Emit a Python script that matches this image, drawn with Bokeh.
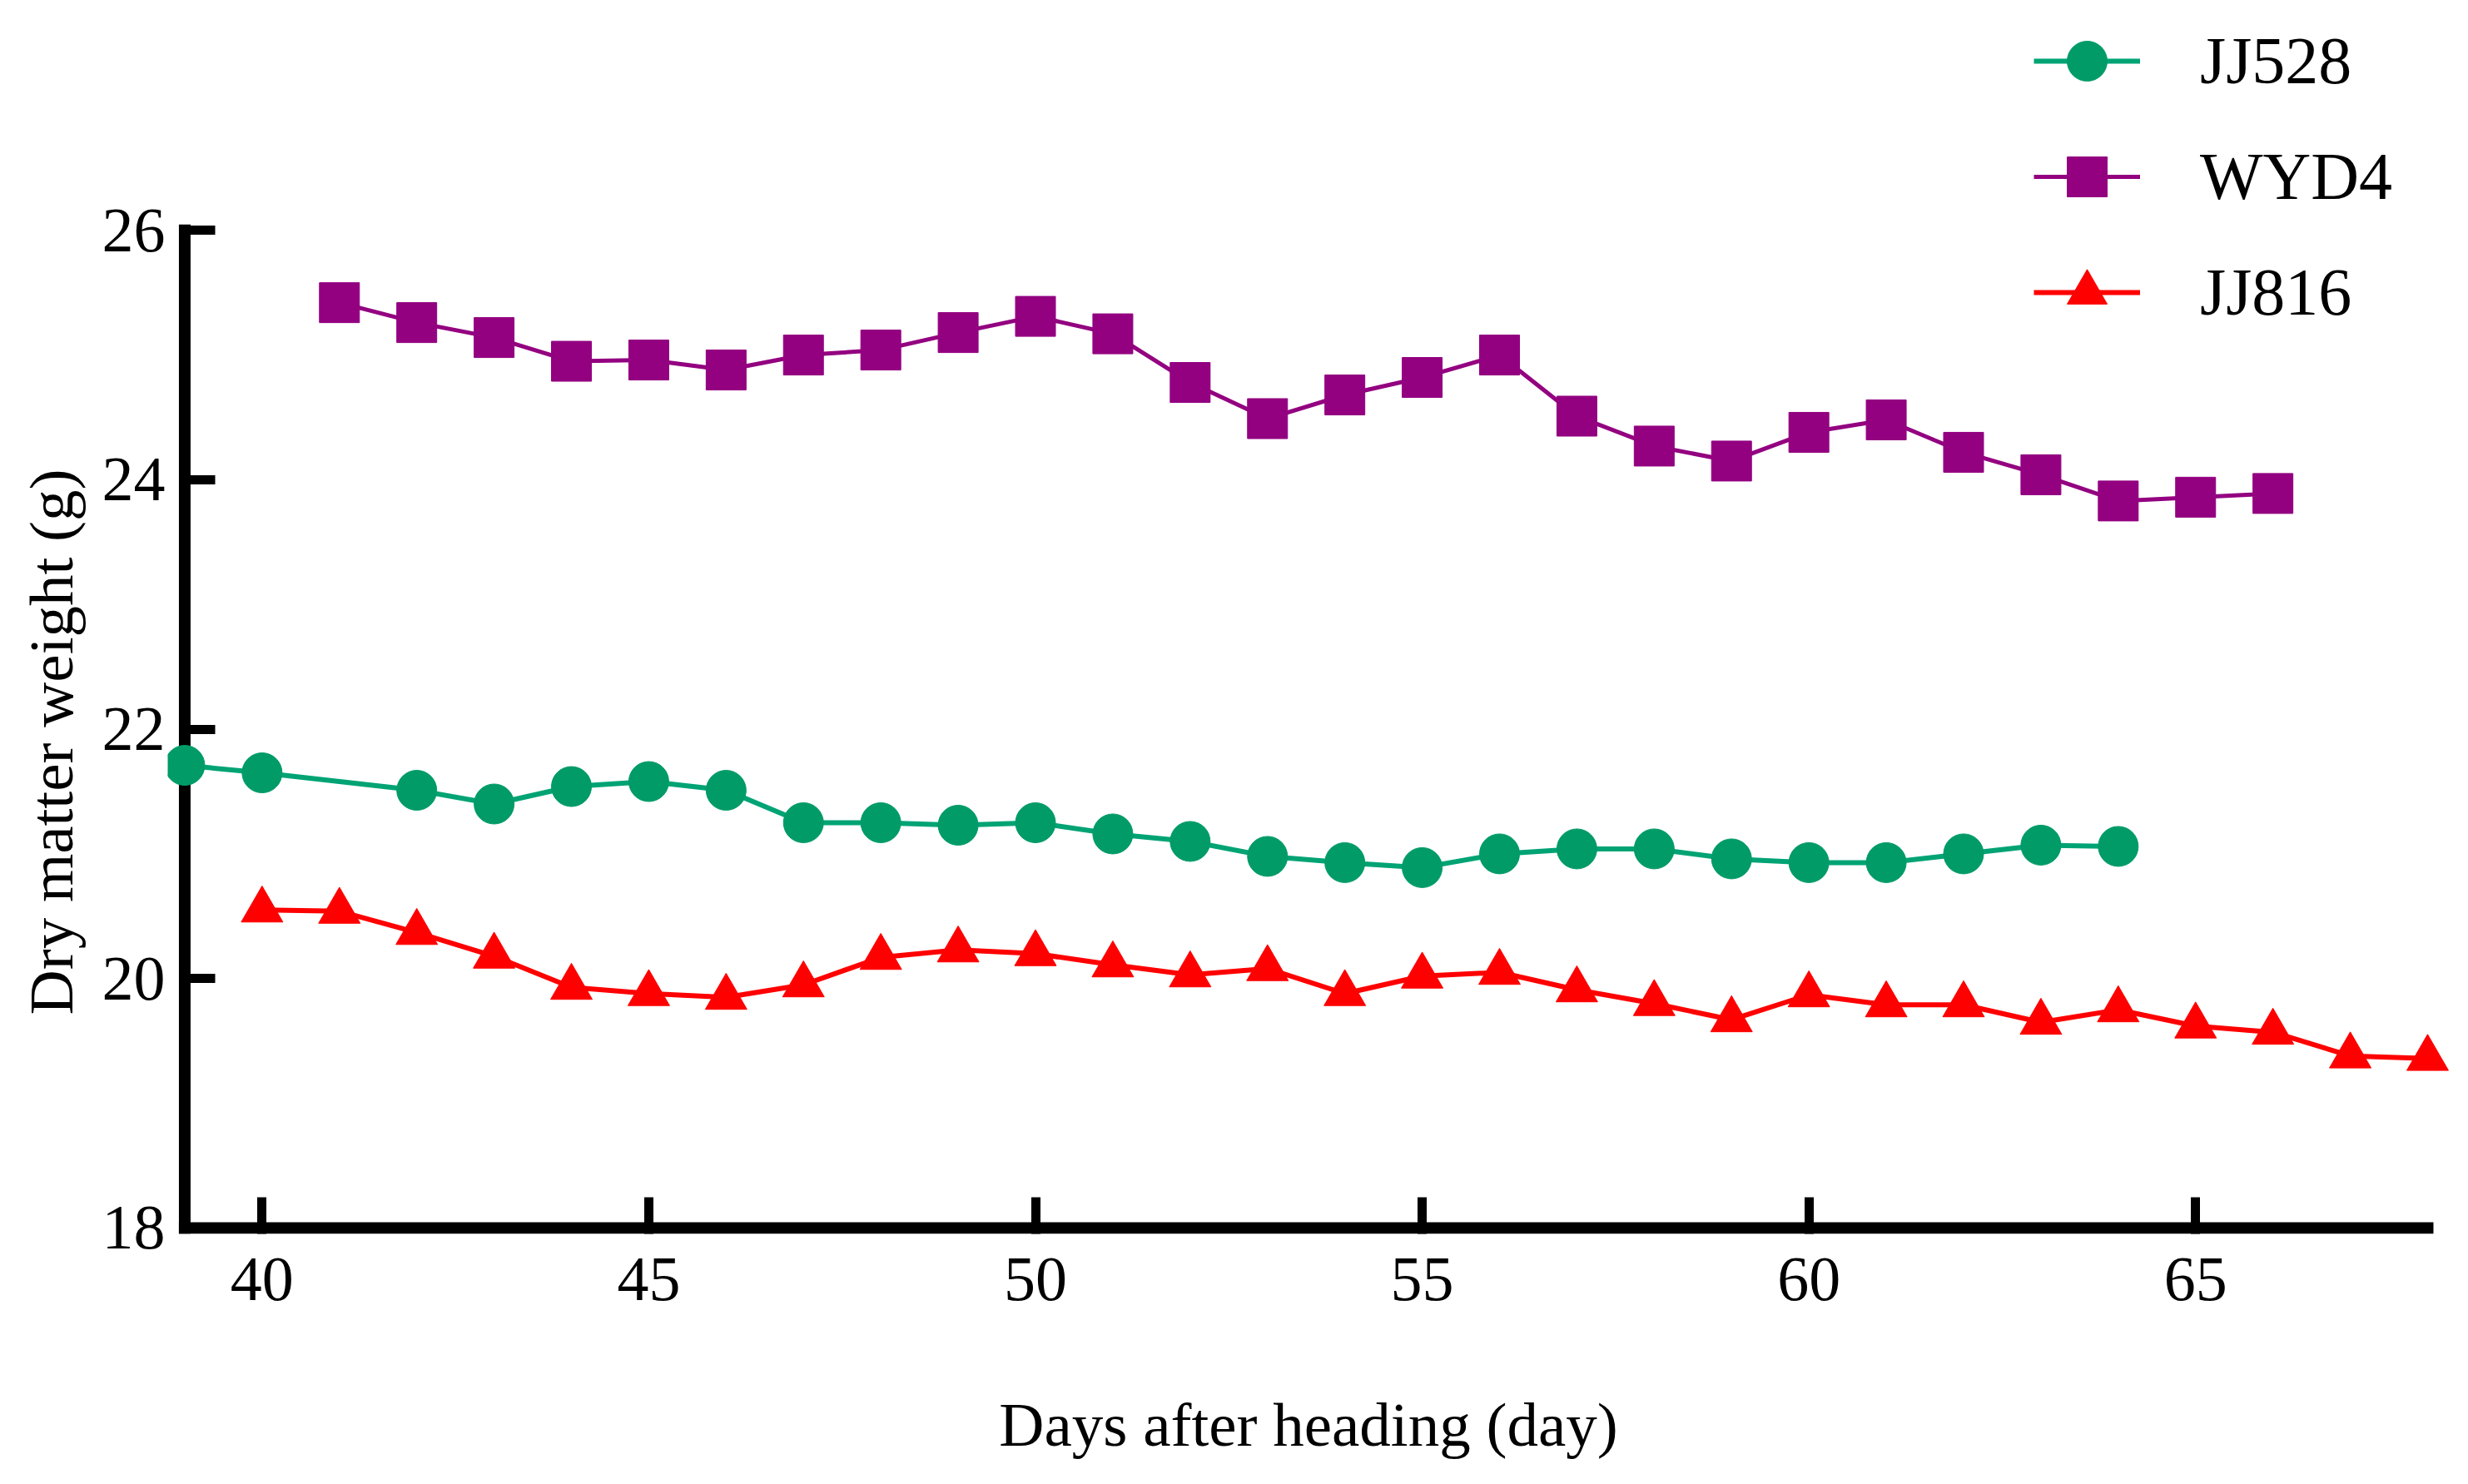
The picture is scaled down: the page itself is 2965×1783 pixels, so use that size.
from bokeh.plotting import figure
from bokeh.models import Range1d, FixedTicker, Legend, LegendItem, LinearAxis, Title
from bokeh.embed import file_html
from bokeh.resources import INLINE

# ---- data ----
days_jj528 = [39, 40, 42, 43, 44, 45, 46, 47, 48, 49, 50, 51, 52, 53, 54, 55,
              56, 57, 58, 59, 60, 61, 62, 63, 64]
jj528 = [21.71, 21.65, 21.51, 21.40, 21.54, 21.58, 21.51, 21.25, 21.25, 21.23,
         21.25, 21.16, 21.10, 20.98, 20.93, 20.89, 21.00, 21.04, 21.04, 20.96,
         20.93, 20.93, 21.00, 21.07, 21.06]

days_wyd4 = [41, 42, 43, 44, 45, 46, 47, 48, 49, 50, 51, 52, 53, 54, 55, 56,
             57, 58, 59, 60, 61, 62, 63, 64, 65, 66]
wyd4 = [25.42, 25.26, 25.14, 24.95, 24.96, 24.88, 25.00, 25.04, 25.18, 25.31,
        25.17, 24.78, 24.49, 24.68, 24.82, 25.00, 24.51, 24.27, 24.15, 24.38,
        24.48, 24.22, 24.04, 23.83, 23.86, 23.89]

days_jj816 = [40, 41, 42, 43, 44, 45, 46, 47, 48, 49, 50, 51, 52, 53, 54, 55,
              56, 57, 58, 59, 60, 61, 62, 63, 64, 65, 66, 67, 68]
jj816 = [20.55, 20.54, 20.37, 20.18, 19.93, 19.88, 19.85, 19.95, 20.17, 20.23,
         20.20, 20.11, 20.03, 20.08, 19.88, 20.02, 20.05, 19.91, 19.80, 19.67,
         19.87, 19.79, 19.79, 19.65, 19.75, 19.62, 19.57, 19.38, 19.36]

x_ticks = [40, 45, 50, 55, 60, 65]
y_ticks = [18, 20, 22, 24, 26]
x_axis_span = [39, 68]
y_axis_span = [18, 26]

x_label = "Days after heading (day)"
y_label = "Dry matter weight (g)"

FONT = "Liberation Serif"

p = figure(width=2949, height=1767, output_backend="svg", toolbar_location=None,
           x_range=Range1d(38.78, 68.28), y_range=Range1d(17.953, 27.75),
           min_border_left=201, min_border_right=7, min_border_top=14,
           min_border_bottom=285)
p.outline_line_color = None
p.grid.visible = False
p.background_fill_color = "white"
p.border_fill_color = "white"

# normal axes: tick labels (x axis also draws its tick marks)
xa = p.xaxis[0]
ya = p.yaxis[0]
xa.ticker = FixedTicker(ticks=x_ticks)
ya.ticker = FixedTicker(ticks=y_ticks)
for ax in (xa, ya):
    ax.axis_line_color = None
    ax.minor_tick_line_color = None
    ax.major_label_text_font = FONT
    ax.major_label_text_font_size = "76px"
    ax.major_label_text_color = "black"
    ax.axis_label_text_font = FONT
    ax.axis_label_text_font_size = "75px"
    ax.axis_label_text_font_style = "normal"
    ax.axis_label_text_color = "black"
xa.major_tick_line_color = "black"
xa.major_tick_line_width = 11
xa.major_tick_in = 44
xa.major_tick_out = 0
ya.major_tick_line_color = None
ya.major_tick_in = 0
ya.major_tick_out = 0
xa.axis_label = x_label
xa.major_label_standoff = 29
xa.axis_label_standoff = 105
ya.major_label_standoff = 3

# y tick marks sitting on the y axis line (x = 39), no labels
ytick_axis = LinearAxis(fixed_location=x_axis_span[0],
                        ticker=FixedTicker(ticks=y_ticks),
                        axis_line_color=None, minor_tick_line_color=None,
                        major_tick_line_color="black", major_tick_line_width=11,
                        major_tick_in=37, major_tick_out=0,
                        major_label_text_font_size="1px",
                        major_label_text_color=None,
                        major_label_standoff=0)
p.add_layout(ytick_axis, "left")

# y axis title (placed beside the y axis, starting near its lower part)
ytitle = Title(text=y_label, align="left", offset=263, standoff=34,
               text_font=FONT, text_font_size="75px", text_font_style="normal",
               text_color="black")
p.add_layout(ytitle, "left")

# axis lines
p.segment(x0=[x_axis_span[0], x_axis_span[0]], y0=[y_axis_span[0], y_axis_span[0]],
          x1=[x_axis_span[1], x_axis_span[0]], y1=[y_axis_span[0], y_axis_span[1]],
          line_color="black", line_width=14, line_cap="square")

GREEN = "#009B67"
PURPLE = "#930080"
RED = "#FF0000"

l1 = p.line(days_jj528, jj528, line_color="#00A374", line_width=6)
s1 = p.scatter(days_jj528, jj528, marker="circle", size=48,
               fill_color=GREEN, line_color=GREEN)
l2 = p.line(days_wyd4, wyd4, line_color=PURPLE, line_width=5)
s2 = p.scatter(days_wyd4, wyd4, marker="square", size=48,
               fill_color=PURPLE, line_color=PURPLE)
l3 = p.line(days_jj816, jj816, line_color=RED, line_width=6)
s3 = p.scatter(days_jj816, jj816, marker="triangle", size=50,
               fill_color=RED, line_color=RED)

legend = Legend(items=[LegendItem(label="JJ528", renderers=[l1, s1]),
                       LegendItem(label="WYD4", renderers=[l2, s2]),
                       LegendItem(label="JJ816", renderers=[l3, s3])],
                location=(2242, 1071), orientation="vertical",
                glyph_width=128, glyph_height=120, label_standoff=72,
                spacing=19, padding=0, margin=0,
                border_line_color=None, background_fill_alpha=0,
                label_text_font=FONT, label_text_font_size="80px",
                label_text_color="black")
p.add_layout(legend, "center")

open("out.html", "w").write(file_html(p, INLINE))
